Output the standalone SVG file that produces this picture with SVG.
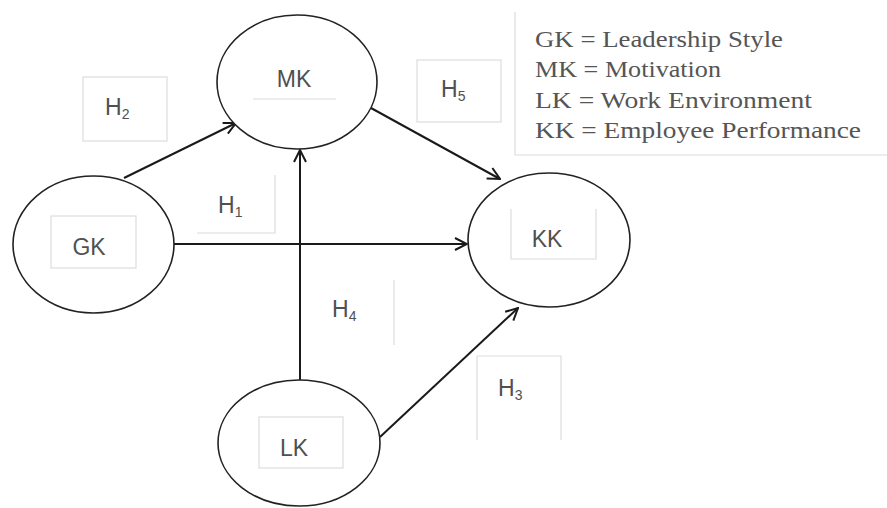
<svg xmlns="http://www.w3.org/2000/svg" width="887" height="508" viewBox="0 0 887 508">
<defs>
<style>
.node{fill:#fff;stroke:#222;stroke-width:1.6}
.lbl{font-family:"Liberation Sans",Arial,sans-serif;font-size:23px;fill:#505050}
.sub{font-size:14px}
.box{fill:none;stroke:#dcdcdc;stroke-width:1.2}
.conn{stroke:#1a1a1a;stroke-width:2;fill:none}
.leg{font-family:"Liberation Serif","Times New Roman",serif;font-size:23px;fill:#555}
</style>
<marker id="arr" viewBox="0 0 14 14" markerWidth="14" markerHeight="14" refX="13" refY="7" orient="auto" markerUnits="userSpaceOnUse">
<path d="M1,1 L13,7 L1,13" fill="none" stroke="#1a1a1a" stroke-width="2"/>
</marker>
</defs>
<rect width="887" height="508" fill="#fff"/>
<g id="legend">
<path class="box" d="M515,12 V155 H887"/>
<text class="leg" x="535" y="47" textLength="248" lengthAdjust="spacingAndGlyphs">GK = Leadership Style</text>
<text class="leg" x="535" y="77" textLength="186" lengthAdjust="spacingAndGlyphs">MK = Motivation</text>
<text class="leg" x="535" y="108" textLength="277" lengthAdjust="spacingAndGlyphs">LK = Work Environment</text>
<text class="leg" x="535" y="138" textLength="326" lengthAdjust="spacingAndGlyphs">KK = Employee Performance</text>
</g>
<g id="h-labels">
<g id="H2"><rect class="box" x="83" y="77" width="84" height="64"/><text class="lbl" x="105" y="115">H<tspan class="sub" dy="4">2</tspan></text></g>
<g id="H1"><path class="box" d="M275,175 V233 H197"/><text class="lbl" x="218" y="213">H<tspan class="sub" dy="4">1</tspan></text></g>
<g id="H5"><rect class="box" x="417" y="60" width="84" height="62"/><text class="lbl" x="441" y="97">H<tspan class="sub" dy="4">5</tspan></text></g>
<g id="H4"><path class="box" d="M394,280 V345"/><text class="lbl" x="332" y="317">H<tspan class="sub" dy="4">4</tspan></text></g>
<g id="H3"><path class="box" d="M477,440 V356 H561 V440"/><text class="lbl" x="498" y="396">H<tspan class="sub" dy="4">3</tspan></text></g>
</g>
<g id="connectors">
<line class="conn" x1="124" y1="178" x2="236" y2="123" marker-end="url(#arr)"/>
<line class="conn" x1="174" y1="244" x2="467" y2="244" marker-end="url(#arr)"/>
<line class="conn" x1="300" y1="380" x2="300" y2="150" marker-end="url(#arr)"/>
<line class="conn" x1="371" y1="108" x2="500" y2="179" marker-end="url(#arr)"/>
<line class="conn" x1="380" y1="437" x2="518" y2="308" marker-end="url(#arr)"/>
</g>
<g id="MK">
<ellipse class="node" cx="297" cy="82" rx="80" ry="67"/>
<path class="box" d="M253,99 H336"/>
<text class="lbl" x="294" y="87" text-anchor="middle">MK</text>
</g>
<g id="GK">
<ellipse class="node" cx="93.5" cy="244.5" rx="80.5" ry="68.5"/>
<rect class="box" x="51" y="216" width="85" height="52"/>
<text class="lbl" x="89" y="255" text-anchor="middle">GK</text>
</g>
<g id="KK">
<ellipse class="node" cx="549" cy="240" rx="81" ry="67"/>
<path class="box" d="M511,209 V259 H596 V209"/>
<text class="lbl" x="547" y="247" text-anchor="middle">KK</text>
</g>
<g id="LK">
<ellipse class="node" cx="299" cy="443" rx="81" ry="63"/>
<rect class="box" x="259" y="417" width="84" height="51"/>
<text class="lbl" x="294" y="456" text-anchor="middle">LK</text>
</g>
</svg>
